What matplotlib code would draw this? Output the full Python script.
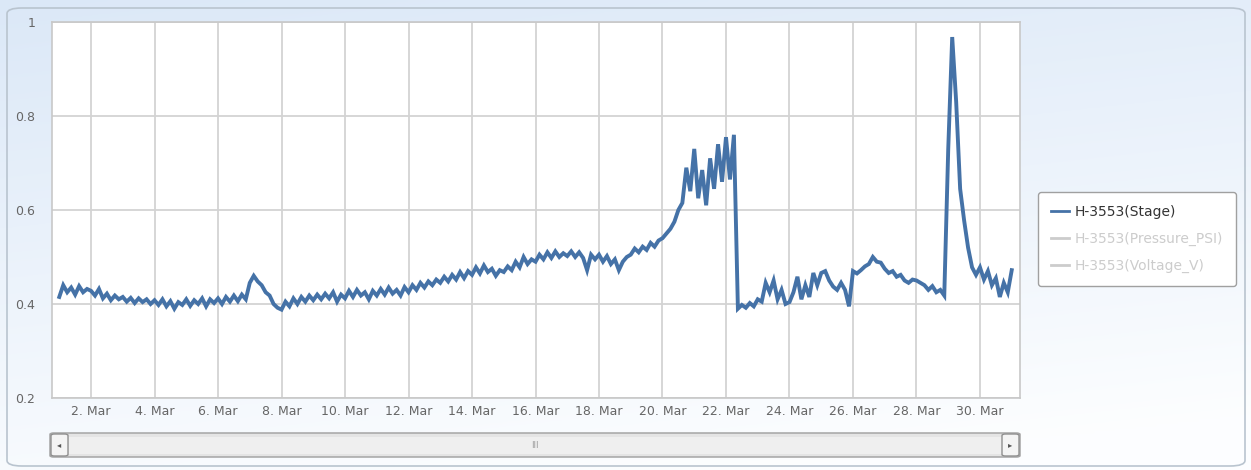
import numpy as np
import pandas as pd
import matplotlib
matplotlib.use("Agg")
import matplotlib.pyplot as plt
from matplotlib.patches import FancyBboxPatch, Rectangle
from matplotlib.lines import Line2D

# H-3553 stage readings, every 3 hours from 1 Mar 00:00 (one row = one day)
stage = [
    0.415, 0.440, 0.425, 0.435, 0.420, 0.438, 0.425, 0.432,   # 1 Mar
    0.428, 0.418, 0.432, 0.412, 0.422, 0.408, 0.418, 0.410,   # 2
    0.415, 0.405, 0.413, 0.402, 0.412, 0.404, 0.410, 0.400,   # 3
    0.408, 0.398, 0.410, 0.395, 0.406, 0.390, 0.404, 0.398,   # 4
    0.410, 0.396, 0.408, 0.400, 0.412, 0.395, 0.410, 0.402,   # 5
    0.412, 0.400, 0.415, 0.405, 0.418, 0.406, 0.420, 0.410,   # 6
    0.445, 0.460, 0.448, 0.440, 0.425, 0.418, 0.400, 0.392,   # 7
    0.388, 0.405, 0.395, 0.412, 0.400, 0.415, 0.405, 0.418,   # 8
    0.408, 0.420, 0.410, 0.422, 0.412, 0.425, 0.405, 0.420,   # 9
    0.412, 0.428, 0.415, 0.430, 0.418, 0.425, 0.410, 0.428,   # 10
    0.418, 0.432, 0.420, 0.435, 0.422, 0.430, 0.418, 0.436,   # 11
    0.425, 0.440, 0.430, 0.445, 0.435, 0.448, 0.440, 0.452,   # 12
    0.445, 0.458, 0.448, 0.462, 0.452, 0.468, 0.455, 0.470,   # 13
    0.462, 0.478, 0.465, 0.482, 0.468, 0.475, 0.460, 0.472,   # 14
    0.468, 0.480, 0.472, 0.490, 0.478, 0.500, 0.485, 0.495,   # 15
    0.490, 0.505, 0.495, 0.510, 0.498, 0.512, 0.500, 0.508,   # 16
    0.502, 0.512, 0.500, 0.510, 0.498, 0.472, 0.505, 0.495,   # 17
    0.505, 0.490, 0.502, 0.485, 0.495, 0.472, 0.490, 0.500,   # 18
    0.505, 0.518, 0.510, 0.522, 0.515, 0.530, 0.522, 0.535,   # 19
    0.540, 0.550, 0.560, 0.575, 0.600, 0.615, 0.690, 0.640,   # 20
    0.730, 0.625, 0.685, 0.610, 0.710, 0.645, 0.740, 0.660,   # 21
    0.755, 0.665, 0.760, 0.390, 0.398, 0.392, 0.402, 0.395,   # 22
    0.410, 0.405, 0.445, 0.425, 0.450, 0.410, 0.430, 0.400,   # 23
    0.404, 0.425, 0.458, 0.410, 0.440, 0.415, 0.466, 0.440,   # 24
    0.466, 0.470, 0.450, 0.437, 0.430, 0.445, 0.430, 0.395,   # 25
    0.470, 0.465, 0.472, 0.480, 0.485, 0.500, 0.490, 0.488,   # 26
    0.475, 0.466, 0.470, 0.458, 0.462, 0.450, 0.445, 0.452,   # 27
    0.450, 0.445, 0.440, 0.430, 0.438, 0.425, 0.430, 0.418,   # 28
    0.730, 0.968, 0.830, 0.645, 0.578, 0.520, 0.478, 0.462,   # 29
    0.478, 0.452, 0.470, 0.440, 0.455, 0.415, 0.445, 0.425,   # 30
    0.472,                                                    # 31
]
times = pd.date_range("2013-03-01 00:00", periods=len(stage), freq="3h")

tick_days = list(range(2, 31, 2))
tick_labels = ["%d. Mar" % d for d in tick_days]
y_ticks = [0.2, 0.4, 0.6, 0.8, 1.0]
y_labels = ["0.2", "0.4", "0.6", "0.8", "1"]

series_names = ["H-3553(Stage)", "H-3553(Pressure_PSI)", "H-3553(Voltage_V)"]

W, H = 1251, 470
fig = plt.figure(figsize=(W / 100, H / 100), dpi=100)

def fx(x):
    return x / W

def fy(y):
    return 1 - y / H

# background gradient of the chart container
bg = fig.add_axes([0, 0, 1, 1], zorder=-10)
bg.set_axis_off()
gy = np.linspace(0, 1, 200)[:, None]
gx = np.linspace(0, 1, 300)[None, :]
top = np.array([0.86, 0.91, 0.97])
bot = np.array([0.99, 0.995, 1.0])
mix = np.clip(gy * 0.85 + gx * 0.25, 0, 1)[..., None]
grad = top * (1 - mix) + bot * mix
bg.imshow(grad, aspect="auto", extent=[0, 1, 0, 1])
bg.set_xlim(0, 1)
bg.set_ylim(0, 1)
bg.add_patch(FancyBboxPatch((fx(7), fy(466)), fx(1238), fy(8) - fy(466),
                            boxstyle="round,pad=0,rounding_size=0.012",
                            facecolor="none", edgecolor="#b9c4cf", lw=1.2,
                            transform=bg.transAxes))

# main plot
ax = fig.add_axes([fx(52), fy(398), fx(968), fy(22) - fy(398)])
ax.set_facecolor("white")
ax.plot(times, stage, color="#4572A7", lw=2.8, solid_joinstyle="miter")

ax.set_ylim(0.2, 1.0)
ax.set_xlim(pd.Timestamp("2013-02-28 18:30"), pd.Timestamp("2013-03-31 06:15"))
ax.set_yticks(y_ticks)
ax.set_yticklabels(y_labels)
ax.set_xticks([pd.Timestamp(2013, 3, d) for d in tick_days])
ax.set_xticklabels(tick_labels)
ax.grid(True, color="#d3d3d3", lw=1.3)
ax.set_axisbelow(True)
ax.tick_params(axis="both", length=0, labelsize=9, colors="#666666")
ax.tick_params(axis="y", pad=12)
ax.tick_params(axis="x", pad=5)
for s in ax.spines.values():
    s.set_color("#c8c8c8")
    s.set_linewidth(1.2)

# legend
h1 = Line2D([], [], color="#4572A7", lw=2)
h2 = Line2D([], [], color="#cccccc", lw=2)
h3 = Line2D([], [], color="#cccccc", lw=2)
leg = fig.legend([h1, h2, h3], series_names, loc="center",
                 bbox_to_anchor=(fx(1137), fy(239)), fontsize=10,
                 handlelength=1.3, handletextpad=0.4, labelspacing=0.9,
                 borderpad=0.95, fancybox=True, framealpha=1)
leg.get_frame().set_edgecolor("#a0a0a0")
leg.get_frame().set_facecolor("white")
leg.get_frame().set_linewidth(1.0)
for t, c in zip(leg.get_texts(), ["#333333", "#cccccc", "#cccccc"]):
    t.set_color(c)

# scrollbar under the plot
sb = bg
sb.add_patch(FancyBboxPatch((fx(50), fy(457)), fx(970), fy(433) - fy(457),
                            boxstyle="round,pad=0,rounding_size=0.003",
                            facecolor="#e4e4e4", edgecolor="#a5a5a5", lw=1.1,
                            transform=sb.transAxes))
sb.add_patch(Rectangle((fx(69), fy(454)), fx(933), fy(437) - fy(454),
                       facecolor="#efefef", edgecolor="none",
                       transform=sb.transAxes))
for x0 in (51, 1002):
    sb.add_patch(FancyBboxPatch((fx(x0), fy(456)), fx(17), fy(434) - fy(456),
                                boxstyle="round,pad=0,rounding_size=0.003",
                                facecolor="#f4f4f4", edgecolor="#909090", lw=1.0,
                                transform=sb.transAxes))
sb.text(fx(59.5), fy(445), "\u25c2", fontsize=6, color="#555555",
        ha="center", va="center", transform=sb.transAxes)
sb.text(fx(1010.5), fy(445), "\u25b8", fontsize=6, color="#555555",
        ha="center", va="center", transform=sb.transAxes)
sb.text(fx(535), fy(445), "III", fontsize=6, color="#999999",
        ha="center", va="center", transform=sb.transAxes)

fig.savefig("out.png", dpi=100)
